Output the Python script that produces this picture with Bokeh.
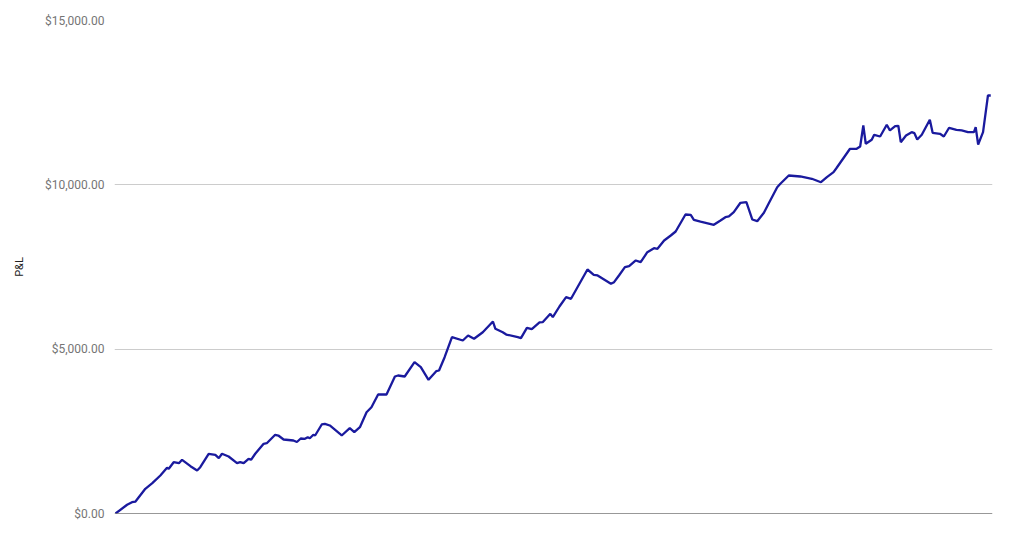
from bokeh.plotting import figure
from bokeh.models import NumeralTickFormatter, FixedTicker, Span, Range1d
from bokeh.embed import file_html
from bokeh.resources import INLINE

# Trading day index and cumulative P&L (USD)
day = [0, 3.3, 4.7, 5.7, 8.5, 10.5, 12.8, 14.7, 15.2, 16.6, 18.1, 19.0, 21.4, 23.3, 24.2,
       26.6, 28.5, 29.5, 30.4, 32.3, 34.7, 35.6, 36.6, 38.0, 38.7, 39.9, 42.3, 43.2, 45.6,
       46.5, 48.0, 50.8, 51.8, 52.9, 54.1, 54.9, 55.5, 56.5, 57.0, 58.9, 59.8, 61.2, 64.1,
       64.6, 66.9, 68.2, 69.8, 71.7, 73.1, 75.0, 77.4, 79.8, 80.7, 82.6, 85.4, 87.2, 89.4,
       91.6, 92.4, 94.0, 96.1, 99.2, 100.7, 102.4, 104.9, 107.8, 108.5, 110.6, 111.6, 114.9,
       115.8, 117.5, 118.9, 121.1, 122.0, 124.2, 124.9, 126.8, 128.7, 130.1, 134.8, 136.6,
       137.7, 141.5, 142.4, 143.8, 145.5, 146.7, 148.6, 150.0, 151.9, 153.8, 154.8, 156.7,
       158.6, 160.0, 162.8, 164.3, 165.2, 167.1, 170.9, 172.8, 174.2, 175.2, 176.6, 178.5,
       180.2, 181.9, 183.3, 185.2, 186.6, 189.0, 189.9, 192.3, 195.6, 198.9, 201.5, 203.2,
       205.1, 206.0, 209.8, 211.7, 212.7, 213.6, 214.3, 216.0, 216.7, 218.4, 220.3, 221.2,
       222.7, 223.6, 224.3, 225.8, 227.4, 228.2, 229.0, 230.3, 232.6, 233.4, 235.5, 236.6,
       238.1, 240.2, 241.7, 243.5, 245.2, 245.7, 246.4, 247.8, 249.2, 250.0]
pnl = [0, 265, 344, 365, 752, 922, 1156, 1390, 1360, 1561, 1530, 1634, 1439, 1308, 1409,
       1817, 1786, 1683, 1817, 1734, 1530, 1561, 1530, 1664, 1634, 1817, 2121, 2139, 2395,
       2373, 2252, 2221, 2176, 2282, 2273, 2322, 2291, 2395, 2373, 2708, 2729, 2678, 2425,
       2373, 2595, 2474, 2626, 3082, 3234, 3621, 3621, 4168, 4199, 4168, 4604, 4452, 4068,
       4330, 4351, 4756, 5365, 5264, 5416, 5316, 5516, 5842, 5620, 5516, 5446, 5364,
       5334, 5650, 5608, 5812, 5821, 6076, 5973, 6298, 6581, 6533, 7424, 7263,
       7242, 6989, 7038, 7242, 7494, 7525, 7698, 7646, 7951, 8072, 8054, 8306,
       8458, 8580, 9097, 9088, 8936, 8884, 8784, 8915, 9015, 9037, 9168, 9454,
       9472, 8945, 8894, 9149, 9441, 9928, 10032, 10284, 10254, 10184, 10080, 10233,
       10385, 10519, 11097, 11097, 11167, 11806, 11249, 11371, 11523, 11471, 11827, 11654,
       11785, 11797, 11298, 11502, 11602, 11571, 11380, 11523, 11979, 11584, 11553, 11471,
       11736, 11675, 11654, 11602, 11602, 11754, 11227, 11602, 12718, 12718]
y_ticks = [0, 5000, 10000, 15000]

p = figure(width=1005, height=526, output_backend="svg", toolbar_location=None,
           x_range=Range1d(-0.3, 250.5), y_range=Range1d(0, 15000),
           min_border_left=114, min_border_right=13, min_border_top=20, min_border_bottom=13)
p.outline_line_color = None
p.background_fill_color = "white"
p.border_fill_color = "white"

p.xaxis.visible = False
p.xgrid.visible = False

p.yaxis.ticker = FixedTicker(ticks=y_ticks)
p.yaxis.formatter = NumeralTickFormatter(format="$0,0.00")
p.yaxis.axis_line_color = None
p.yaxis.major_tick_line_color = None
p.yaxis.minor_tick_line_color = None
p.yaxis.major_tick_out = 0
p.yaxis.major_label_standoff = 10
p.yaxis.major_label_text_font = "Roboto"
p.yaxis.major_label_text_font_size = "12px"
p.yaxis.major_label_text_color = "#757575"
p.yaxis.axis_label = "P&L"
p.yaxis.axis_label_text_font = "Roboto"
p.yaxis.axis_label_text_font_size = "11px"
p.yaxis.axis_label_text_font_style = "normal"
p.yaxis.axis_label_text_color = "#222222"
p.yaxis.axis_label_standoff = 16

p.ygrid.ticker = FixedTicker(ticks=y_ticks)
p.ygrid.grid_line_color = "#cccccc"
p.ygrid.grid_line_width = 1

p.add_layout(Span(location=0, dimension="width", line_color="#333333", line_width=1))

p.line(day, pnl, line_color="#1a1a9e", line_width=2.3)

open("out.html", "w").write(file_html(p, INLINE))
